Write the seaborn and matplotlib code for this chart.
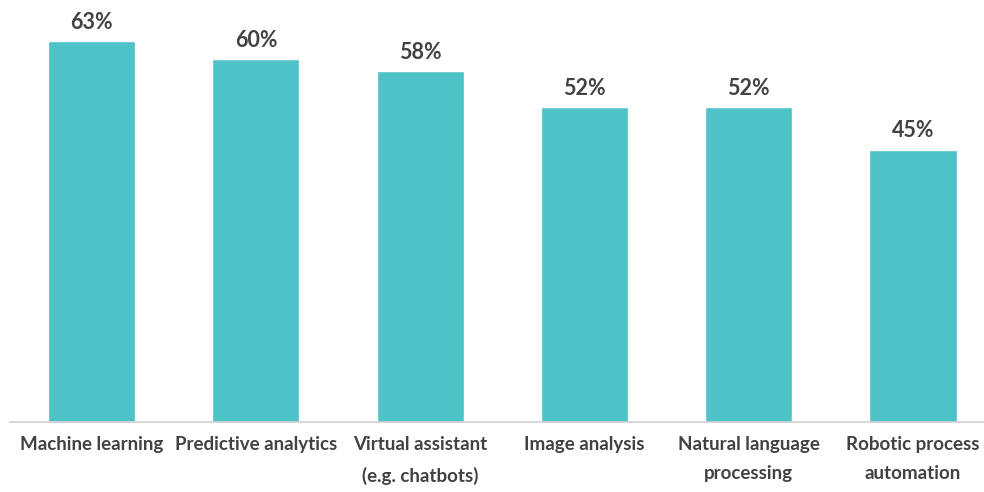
import matplotlib
matplotlib.use("Agg")
import matplotlib.pyplot as plt
import seaborn as sns
import pandas as pd

categories = [
    "Machine learning",
    "Predictive analytics",
    "Virtual assistant\n(e.g. chatbots)",
    "Image analysis",
    "Natural language\nprocessing",
    "Robotic process\nautomation",
]
adoption_pct = [63, 60, 58, 52, 52, 45]

df = pd.DataFrame({"technology": categories, "pct": adoption_pct})

sns.set_theme(style="white")
plt.rcParams["font.family"] = ["Lato", "DejaVu Sans"]

bar_color = "#4EC3C7"
text_color = "#424242"

fig = plt.figure(figsize=(9.84, 4.92), dpi=100)
ax = fig.add_axes([0.0097, 0.1423, 1.0016, 0.8577])

sns.barplot(data=df, x="technology", y="pct", color=bar_color,
            width=0.53, saturation=1, ax=ax)

ax.set_xlim(-0.5, 5.5)
ax.set_ylim(0, 69.75)

for i, v in enumerate(adoption_pct):
    ax.annotate(f"{v}%", xy=(i, v), xytext=(0, 6), textcoords="offset points",
                ha="center", va="bottom", fontsize=15.5, fontweight="bold",
                color=text_color)

ax.set_xlabel("")
ax.set_ylabel("")
ax.set_yticks([])
ax.tick_params(axis="x", length=0, pad=10, labelsize=13.5, colors=text_color)
for lbl in ax.get_xticklabels():
    lbl.set_fontweight("bold")
    lbl.set_linespacing(1.9)
    lbl.set_verticalalignment("top")

for side in ["top", "left", "right"]:
    ax.spines[side].set_visible(False)
ax.spines["bottom"].set_color("#D0D0D0")
ax.spines["bottom"].set_linewidth(1.2)

fig.savefig("out.png", dpi=100, facecolor="white")
